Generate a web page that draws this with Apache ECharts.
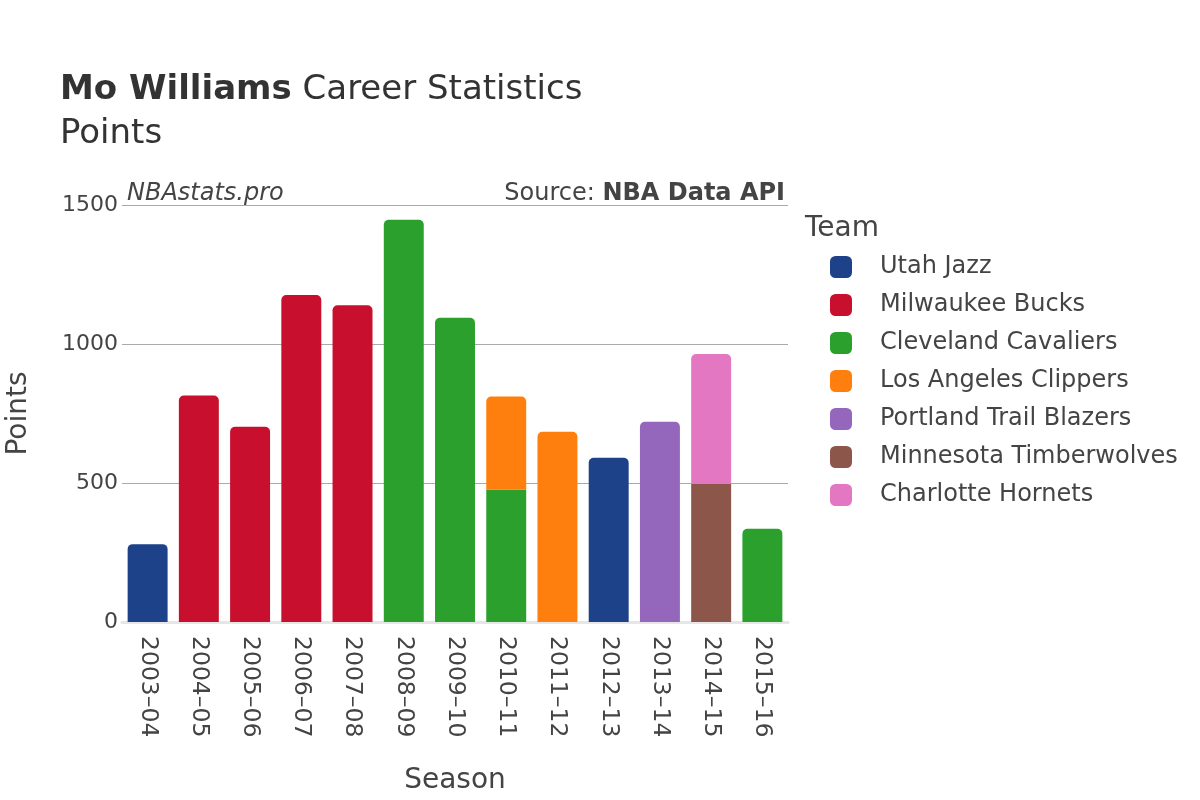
<!DOCTYPE html>
<html><head><meta charset="utf-8">
<script src="https://cdn.jsdelivr.net/npm/echarts@6/dist/echarts.min.js"></script>
<style>html,body{margin:0;padding:0;background:#fff}#c{width:1200px;height:800px}</style>
</head><body><div id="c"></div>
<script>
const seasons = ['2003–04','2004–05','2005–06','2006–07','2007–08','2008–09','2009–10','2010–11','2011–12','2012–13','2013–14','2014–15','2015–16'];
const teams = ['Utah Jazz','Milwaukee Bucks','Cleveland Cavaliers','Los Angeles Clippers','Portland Trail Blazers','Minnesota Timberwolves','Charlotte Hornets'];
const utahJazz        = [280, 0, 0, 0, 0, 0, 0, 0, 0, 591, 0, 0, 0];
const milwaukeeBucks  = [0, 815, 702, 1176, 1139, 0, 0, 0, 0, 0, 0, 0, 0];
const clevelandCavs   = [0, 0, 0, 0, 0, 1447, 1094, 477, 0, 0, 0, 0, 335];
const laClippers      = [0, 0, 0, 0, 0, 0, 0, 334, 684, 0, 0, 0, 0];
const portlandBlazers = [0, 0, 0, 0, 0, 0, 0, 0, 0, 0, 720, 0, 0];
const minnesotaWolves = [0, 0, 0, 0, 0, 0, 0, 0, 0, 0, 0, 496, 0];
const charlotteHornets= [0, 0, 0, 0, 0, 0, 0, 0, 0, 0, 0, 468, 0];
const yTicks = [0, 500, 1000, 1500];

const seriesValues = [utahJazz, milwaukeeBucks, clevelandCavs, laClippers, portlandBlazers, minnesotaWolves, charlotteHornets];
const colors = ['#1d428a','#c8102e','#2ca02c','#ff7f0e','#9467bd','#8c564b','#e377c2'];
const FONT = 'DejaVu Sans';
const TXT = '#444';

const series = teams.map((name, si) => ({
  name, type: 'bar', stack: 'total', barCategoryGap: '22%',
  itemStyle: { color: colors[si] },
  data: seriesValues[si].map((v, ci) => {
    if (!v) return null;
    let onTop = true;
    for (let k = si + 1; k < seriesValues.length; k++) if (seriesValues[k][ci]) onTop = false;
    return { value: v, itemStyle: { borderRadius: onTop ? [5,5,0,0] : 0 } };
  })
}));

const chart = echarts.init(document.getElementById('c'));
chart.setOption({
  animation: false,
  textStyle: { fontFamily: FONT },
  title: [
    { text: '{b|Mo Williams} Career Statistics\nPoints', left: 60, top: 68, padding: 0,
      textStyle: { fontFamily: FONT, fontSize: 34, color: '#333', fontWeight: 'normal', lineHeight: 44,
        rich: { b: { fontFamily: FONT, fontSize: 34, fontWeight: 'bold', color: '#333', lineHeight: 44 } } } },
    { text: 'NBAstats.pro', left: 127, top: 182, padding: 0,
      textStyle: { fontFamily: FONT, fontSize: 24, fontStyle: 'italic', fontWeight: 'normal', color: TXT } },
    { text: 'Source: {b|NBA Data API}', right: 415, top: 182, padding: 0,
      textStyle: { fontFamily: FONT, fontSize: 24, fontWeight: 'normal', color: TXT,
        rich: { b: { fontFamily: FONT, fontSize: 24, fontWeight: 'bold', color: TXT } } } },
    { text: 'Team', left: 805, top: 215, padding: 0,
      textStyle: { fontFamily: FONT, fontSize: 28, fontWeight: 'normal', color: TXT } }
  ],
  legend: {
    data: teams, orient: 'vertical', left: 830, top: 255, padding: 0, itemWidth: 22, itemHeight: 22, itemGap: 14,
    icon: 'roundRect', selectedMode: false,
    textStyle: { fontFamily: FONT, fontSize: 24, color: TXT, padding: [0,0,0,23] }
  },
  grid: { left: 122, right: 412, top: 205, bottom: 178, containLabel: false, outerBoundsMode: 'none' },
  xAxis: {
    type: 'category', data: seasons, name: 'Season', nameLocation: 'middle', nameGap: 145,
    nameTextStyle: { fontFamily: FONT, fontSize: 28, color: TXT },
    axisTick: { show: false },
    axisLine: { show: true, lineStyle: { color: '#e6e6e6', width: 3 } },
    axisLabel: { rotate: -90, margin: 14, fontFamily: FONT, fontSize: 23.5, color: TXT }
  },
  yAxis: {
    type: 'value', min: yTicks[0], max: yTicks[yTicks.length-1], interval: 500,
    name: 'Points', nameLocation: 'middle', nameGap: 89,
    nameTextStyle: { fontFamily: FONT, fontSize: 28, color: TXT },
    axisLine: { show: false }, axisTick: { show: false },
    axisLabel: { margin: 4, fontFamily: FONT, fontSize: 22, color: TXT, formatter: v => String(v) },
    splitLine: { lineStyle: { color: '#aaaaaa', width: 1 } }
  },
  series
});
</script></body></html>
